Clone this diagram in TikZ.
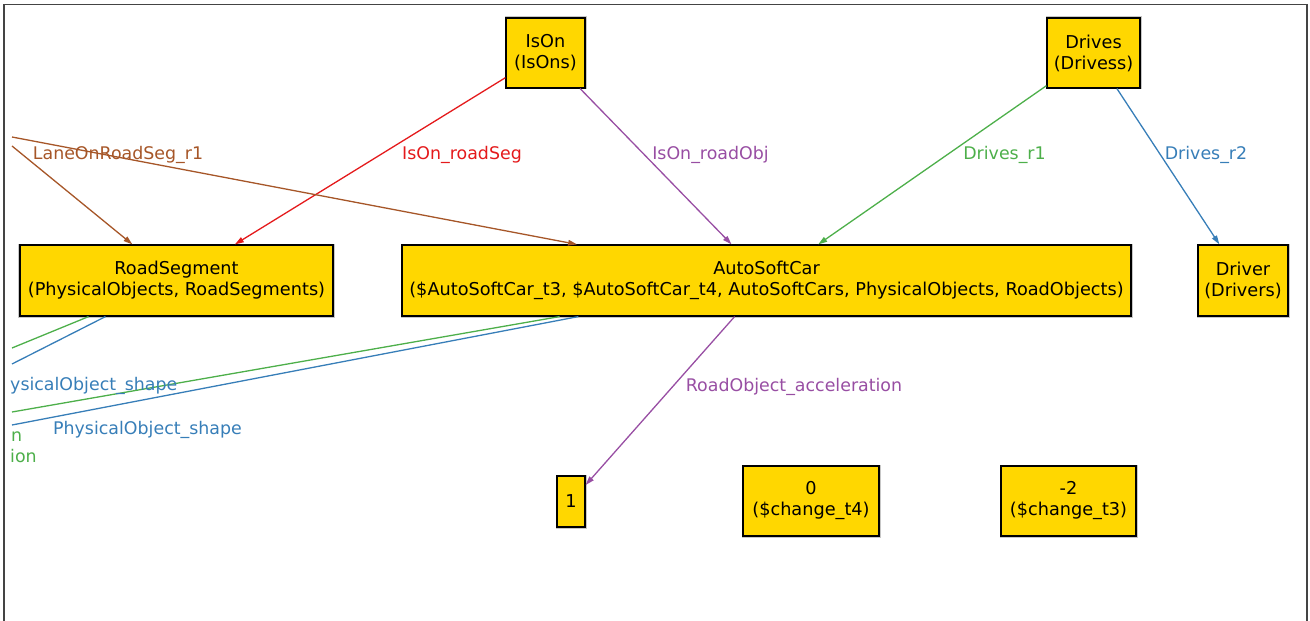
\documentclass[tikz,border=0pt]{standalone}
\usepackage{fontspec}
\setmainfont{DejaVu Sans}
\usetikzlibrary{arrows.meta}
\definecolor{boxgold}{HTML}{FFD700}
\definecolor{eRed}{HTML}{E41A1C}
\definecolor{eBlue}{HTML}{377EB8}
\definecolor{eGreen}{HTML}{4DAF4A}
\definecolor{ePurple}{HTML}{984EA3}
\definecolor{eBrown}{HTML}{A65628}
\definecolor{frameGray}{HTML}{444444}
\newcommand\gfont{\fontsize{17.4bp}{21bp}\selectfont}
\newcommand\bfontsz{\fontsize{17.7bp}{21bp}\selectfont}
\begin{document}
\begin{tikzpicture}[x=1bp,y=-1bp,
  box/.style={draw=black, line width=1.2bp, fill=boxgold, inner sep=0pt,
    align=center, font=\bfontsz, preaction={draw=black!22, line width=3bp}},
  link/.style={line width=1.3bp},
  arc/.style={link, -{Triangle[length=9bp,width=5.5bp]}},
  elabel/.style={font=\gfont, inner sep=0pt, anchor=base}
]
\useasboundingbox (0,0) rectangle (1310,621);

% viewport frame
\draw[frameGray, line width=1.6bp] (4,621) -- (4,4.5) -- (1307,4.5) -- (1307,621);

% nodes
\node[box, minimum width=79bp, minimum height=70bp] (IsOn) at (545.5,53) {IsOn\\(IsOns)};
\node[box, minimum width=93bp, minimum height=70bp] (Drives) at (1093.5,53) {Drives\\(Drivess)};
\node[box, minimum width=313bp, minimum height=71bp] (RoadSegment) at (176.5,280.5)
  {RoadSegment\\(PhysicalObjects, RoadSegments)};
\node[box, minimum width=729bp, minimum height=71bp] (AutoSoftCar) at (766.5,280.5)
  {AutoSoftCar\\(\$AutoSoftCar\_t3, \$AutoSoftCar\_t4, AutoSoftCars, PhysicalObjects, RoadObjects)};
\node[box, minimum width=90bp, minimum height=71bp] (Driver) at (1243,280.5) {Driver\\(Drivers)};
\node[box, minimum width=28bp, minimum height=51bp] (one) at (571,501.5) {1};
\node[box, minimum width=136bp, minimum height=70bp] (zero) at (811,501) {0\\(\$change\_t4)};
\node[box, minimum width=135bp, minimum height=70bp] (mtwo) at (1068.5,501) {-2\\(\$change\_t3)};

% loose ends of edges leaving the visible area
\coordinate (laneA) at (12,137);
\coordinate (laneB) at (12,146);
\coordinate (rsGreen) at (12,348);
\coordinate (rsBlue) at (12,364);
\coordinate (ascGreen) at (12,412);
\coordinate (ascBlue) at (12,425);

% edges
\draw[arc, eRed] (IsOn) -- (RoadSegment);
\draw[arc, ePurple] (IsOn) -- (AutoSoftCar);
\draw[arc, eGreen] (Drives) -- (AutoSoftCar);
\draw[arc, eBlue] (Drives) -- (Driver);
\draw[arc, ePurple] (AutoSoftCar) -- (one);
\draw[arc, eBrown] (laneA) -- (AutoSoftCar);
\draw[arc, eBrown] (laneB) -- (RoadSegment);
\draw[link, eGreen] (RoadSegment) -- (rsGreen);
\draw[link, eBlue] (RoadSegment) -- (rsBlue);
\draw[link, eGreen] (AutoSoftCar) -- (ascGreen);
\draw[link, eBlue] (AutoSoftCar) -- (ascBlue);

% edge labels
\node[elabel, eBrown] (lLane) at (118,160) {LaneOnRoadSeg\_r1};
\node[elabel, eRed] (lRoadSeg) at (462,160) {IsOn\_roadSeg};
\node[elabel, ePurple] (lRoadObj) at (710.5,160) {IsOn\_roadObj};
\node[elabel, eGreen] (lDr1) at (1004.5,160) {Drives\_r1};
\node[elabel, eBlue] (lDr2) at (1206,160) {Drives\_r2};
\node[elabel, ePurple] (lAcc) at (794,391.5) {RoadObject\_acceleration};
\node[elabel, eBlue, anchor=base west] (lShapeA) at (10,390.5) {ysicalObject\_shape};
\node[elabel, eBlue] (lShapeB) at (147.5,434) {PhysicalObject\_shape};
\node[elabel, eGreen, anchor=base west] (lGreenA) at (11,441.5) {n};
\node[elabel, eGreen, anchor=base west] (lGreenB) at (10,462) {ion};
\end{tikzpicture}
\end{document}
